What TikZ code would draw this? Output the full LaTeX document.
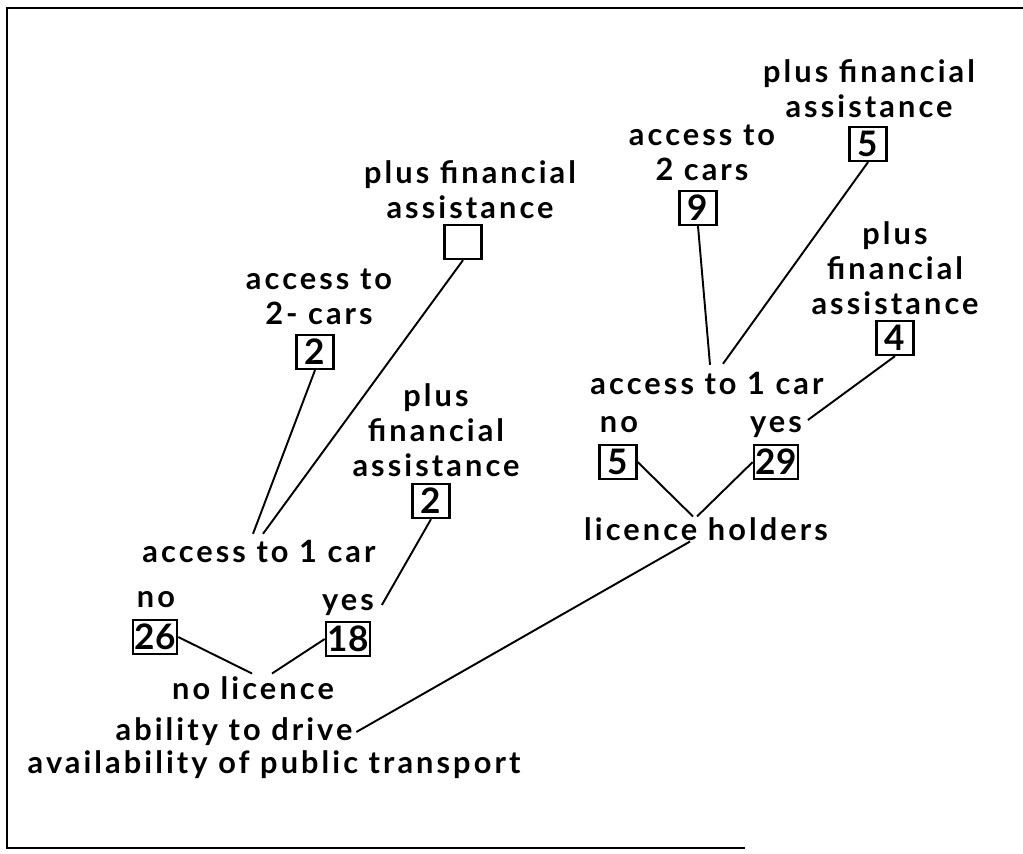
\documentclass[tikz,border=0pt]{standalone}
\usepackage{fontspec}
\setmainfont{Lato}[LetterSpace=10]
\usetikzlibrary{positioning}
\begin{document}
\begin{tikzpicture}
  [
  x=0.02cm, y=-0.02cm,
  font=\fontsize{17.5}{19.9}\selectfont\bfseries, line width=1.1pt, draw=black,
  optnode/.style={align=center, inner sep=0pt},
  cntnode/.style={rectangle, draw=black, line width=1.3pt, inner sep=1pt, minimum width=0.74cm, minimum height=0.68cm,
    font=\fontsize{20}{20}\selectfont\bfseries\addfontfeature{LetterSpace=0}},
  ]
  \useasboundingbox (0,0) rectangle (1023,853);
  \draw[line width=1.4pt] (1023,8) -- (7,8) -- (7,848) -- (745,848);

  % no licence side
  \node[optnode] (pfL) at (470,190) {plus financial\\assistance};
  \node[cntnode] (bpfL) at (463,242) {};
  \node[optnode] (two2L) at (319,297) {access to\\2- cars};
  \node[cntnode] (b2L) at (315,352) {2};
  \node[optnode] (pfL2) at (436,430) {plus\\financial\\assistance};
  \node[cntnode] (bpfL2) at (431,501) {2};
  \node[optnode] (one1L) at (259,551) {access to 1 car};
  \node[optnode] (noL) at (156,600) {no};
  \node[optnode] (yesL) at (348,605) {yes};
  \node[cntnode] (b26) at (155,637) {26};
  \node[cntnode] (b18) at (348,639) {18};
  \node[optnode] (nolic) at (253,688) {no licence};
  \node[optnode] (drive) at (234,732) {ability to drive};
  \node[optnode] (public) at (274,765) {availability of public transport};

  % licence holders side
  \node[optnode] (pfR) at (869,89) {plus financial\\assistance};
  \node[cntnode] (b5R) at (868,144) {5};
  \node[optnode] (two2R) at (702,153) {access to\\2 cars};
  \node[cntnode] (b9) at (698,208) {9};
  \node[optnode] (pfR2) at (895,268) {plus\\financial\\assistance};
  \node[cntnode] (b4) at (895,338) {4};
  \node[optnode] (one1R) at (707,383) {access to 1 car};
  \node[optnode] (noR) at (619,425) {no};
  \node[optnode] (yesR) at (776,427) {yes};
  \node[cntnode] (b5n) at (618,462) {5};
  \node[cntnode] (b29) at (776,462) {29};
  \node[optnode] (lh) at (706,529) {licence holders};

  \draw (b2L.south) -- ([xshift=-0.12cm,yshift=0.1cm]one1L.north);
  \draw (bpfL.south) -- ([xshift=0.08cm,yshift=0.1cm]one1L.north);
  \draw (bpfL2.south) -- ([xshift=0.14cm]yesL.east);
  \draw (b26.east) -- ([xshift=-0.02cm,yshift=0.04cm]nolic.north);
  \draw (b18.west) -- ([xshift=0.38cm,yshift=0.04cm]nolic.north);
  \draw ([xshift=0.06cm]drive.east) -- ([xshift=-0.32cm]lh.south);

  \draw (b9.south) -- ([xshift=0.06cm,yshift=0.12cm]one1R.north);
  \draw (b5R.south) -- ([xshift=0.32cm,yshift=0.14cm]one1R.north);
  \draw (b4.south) -- ([xshift=0.1cm,yshift=0.14cm]yesR.east);
  \draw (b5n.east) -- ([xshift=-0.26cm]lh.north);
  \draw (b29.west) -- ([xshift=-0.18cm]lh.north);
\end{tikzpicture}
\end{document}
